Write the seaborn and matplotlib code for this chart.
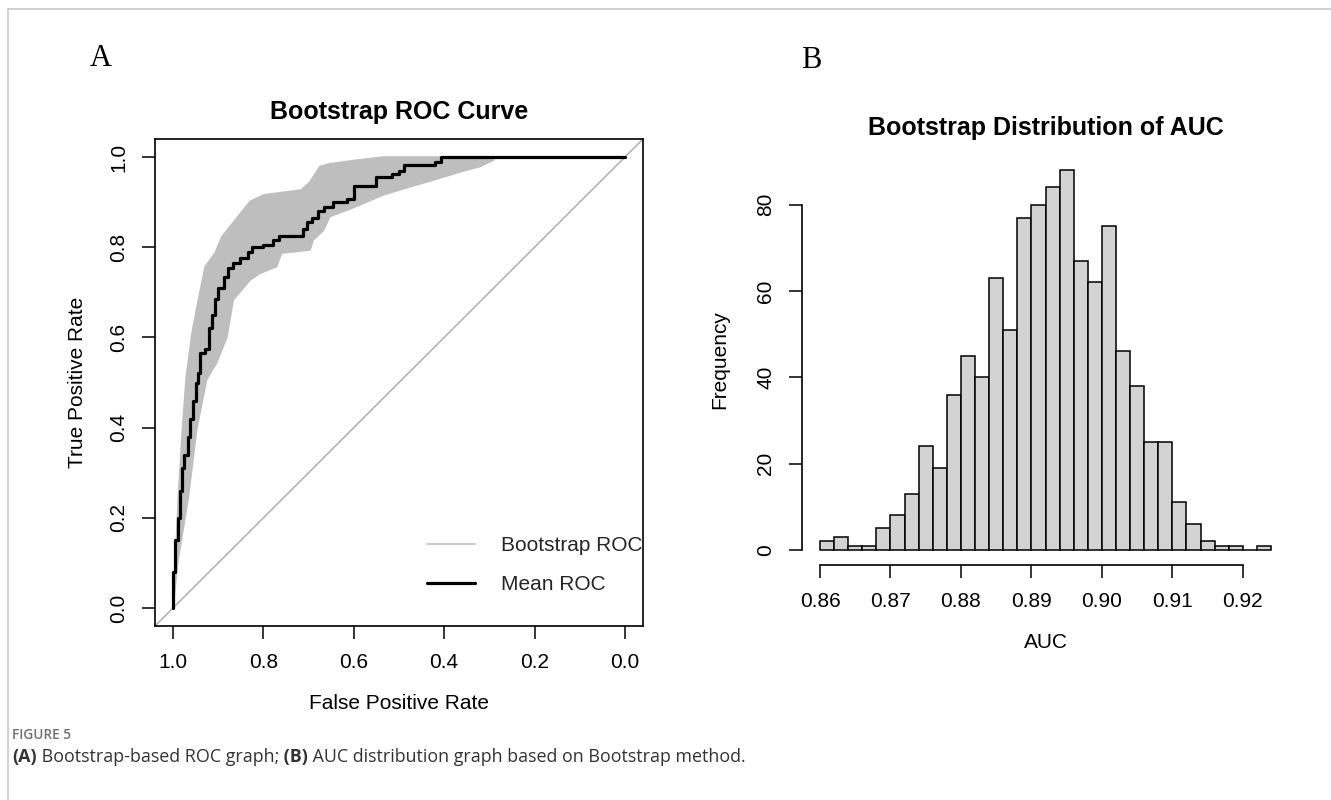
import numpy as np
import pandas as pd
import matplotlib
matplotlib.use("Agg")
import matplotlib.pyplot as plt
import seaborn as sns
from matplotlib.lines import Line2D

# ---------------- data ----------------
# Mean ROC (specificity, sensitivity) step corners
mean_spec = [1.000, 0.995, 0.990, 0.985, 0.980, 0.975, 0.968, 0.962, 0.955, 0.950,
             0.945, 0.940, 0.930, 0.920, 0.914, 0.907, 0.900, 0.888, 0.878, 0.868,
             0.852, 0.835, 0.825, 0.800, 0.778, 0.765, 0.712, 0.703, 0.692, 0.680,
             0.665, 0.645, 0.615, 0.600, 0.550, 0.515, 0.500, 0.490, 0.420, 0.408, 0.000]
mean_sens = [0.000, 0.080, 0.150, 0.200, 0.260, 0.310, 0.340, 0.380, 0.420, 0.460,
             0.500, 0.520, 0.565, 0.575, 0.620, 0.650, 0.685, 0.710, 0.735, 0.755,
             0.765, 0.775, 0.790, 0.800, 0.805, 0.815, 0.825, 0.840, 0.855, 0.865,
             0.880, 0.890, 0.900, 0.908, 0.935, 0.955, 0.962, 0.970, 0.983, 0.990, 1.000]

# Outer (upper-left) bootstrap ROC envelope
upper_spec = [1.000, 0.995, 0.988, 0.979, 0.971, 0.958, 0.944, 0.929, 0.907, 0.892,
              0.874, 0.830, 0.800, 0.716, 0.697, 0.675, 0.653, 0.594, 0.535, 0.290]
upper_sens = [0.000, 0.100, 0.250, 0.400, 0.510, 0.610, 0.683, 0.757, 0.787, 0.823,
              0.846, 0.901, 0.916, 0.927, 0.945, 0.979, 0.985, 0.993, 1.000, 1.000]
# Inner (lower-right) bootstrap ROC envelope
lower_spec = [1.000, 0.990, 0.966, 0.948, 0.926, 0.904, 0.881, 0.867, 0.830, 0.808,
              0.771, 0.760, 0.697, 0.690, 0.667, 0.653, 0.608, 0.535, 0.476, 0.424,
              0.365, 0.321, 0.291, 0.290]
lower_sens = [0.000, 0.100, 0.247, 0.395, 0.506, 0.543, 0.600, 0.683, 0.727, 0.742,
              0.757, 0.787, 0.794, 0.816, 0.838, 0.868, 0.885, 0.916, 0.934, 0.949,
              0.967, 0.979, 0.993, 1.000]

roc_ticks = [1.0, 0.8, 0.6, 0.4, 0.2, 0.0]
roc_ticklabels = ["1.0", "0.8", "0.6", "0.4", "0.2", "0.0"]

# Bootstrap AUC histogram (bin width 0.002 starting at 0.860)
auc_bin_start = 0.860
auc_bin_width = 0.002
auc_counts = [2, 3, 1, 1, 5, 8, 13, 24, 19, 36, 45, 40, 63, 51, 77, 80,
              84, 88, 67, 62, 75, 46, 38, 25, 25, 11, 6, 2, 1, 1, 0, 1]
auc_xticks = [0.86, 0.87, 0.88, 0.89, 0.90, 0.91, 0.92]
auc_xticklabels = ["0.86", "0.87", "0.88", "0.89", "0.90", "0.91", "0.92"]
freq_ticks = [0, 20, 40, 60, 80]

# ---------------- style ----------------
sns.set_theme(style="white")
plt.rcParams["font.family"] = ["Liberation Sans", "DejaVu Sans"]
FS = 15
GRAY = "#BEBEBE"
TICKLEN = 9.1
TICKPAD = 10.2

W, H = 1331, 800
fig = plt.figure(figsize=(W / 100, H / 100), dpi=100)
fig.patch.set_facecolor("white")

def px_axes(l, t, r, b):
    return fig.add_axes([l / W, 1 - b / H, (r - l) / W, (b - t) / H])

axA = px_axes(155, 139, 643, 626)
axB = px_axes(802, 155, 1289, 565)

# ---------------- panel A ----------------
poly_x = np.r_[upper_spec, lower_spec[::-1]]
poly_y = np.r_[upper_sens, lower_sens[::-1]]
axA.fill(poly_x, poly_y, color=GRAY, lw=0, zorder=1)

df_up = pd.DataFrame({"spec": upper_spec, "sens": upper_sens})
df_lo = pd.DataFrame({"spec": lower_spec, "sens": lower_sens})
df_mean = pd.DataFrame({"spec": mean_spec, "sens": mean_sens})
sns.lineplot(data=df_up, x="spec", y="sens", sort=False, estimator=None,
             color=GRAY, lw=1.2, ax=axA, zorder=2)
sns.lineplot(data=df_lo, x="spec", y="sens", sort=False, estimator=None,
             color=GRAY, lw=1.2, ax=axA, zorder=2)
axA.axline((1, 0), (0, 1), color="#A8A8A8", lw=1.0, zorder=1.5)
sns.lineplot(data=df_mean, x="spec", y="sens", sort=False, estimator=None,
             color="black", lw=2.3, drawstyle="steps-pre", ax=axA, zorder=3)

axA.set_xlim(1.04, -0.04)
axA.set_ylim(-0.04, 1.04)
axA.set_xticks(roc_ticks)
axA.set_xticklabels(roc_ticklabels)
axA.set_yticks(roc_ticks)
axA.set_yticklabels(roc_ticklabels, rotation=90, va="center")
for s in axA.spines.values():
    s.set_visible(True)
    s.set_color("black")
    s.set_linewidth(1.2)
axA.tick_params(axis="both", direction="out", length=TICKLEN, width=1.1,
                colors="black", labelsize=FS, pad=TICKPAD, bottom=True, left=True)
axA.set_xlabel("False Positive Rate", fontsize=FS, color="black")
axA.set_ylabel("True Positive Rate", fontsize=FS, color="black")
axA.xaxis.set_label_coords(0.5, (626 - 694) / 487)
axA.yaxis.set_label_coords((87 - 155) / 488, 0.5)

handles = [Line2D([], [], color=GRAY, lw=1.2), Line2D([], [], color="black", lw=2.3)]
leg = axA.legend(handles, ["Bootstrap ROC", "Mean ROC"], loc="upper left",
                 bbox_to_anchor=((427 - 155) / 488, (626 - 536) / 487),
                 frameon=False, fontsize=FS, handlelength=2.3, handletextpad=1.25,
                 labelspacing=0.95, borderpad=0, borderaxespad=0)
for t in leg.get_texts():
    t.set_clip_on(True)
    t.set_clip_box(axA.bbox)

# ---------------- panel B ----------------
nb = len(auc_counts)
edges = [round(auc_bin_start + auc_bin_width * i, 4) for i in range(nb + 1)]
centers = [(edges[i] + edges[i + 1]) / 2 for i in range(nb)]
df_auc = pd.DataFrame({"auc": centers, "count": auc_counts})
sns.histplot(data=df_auc, x="auc", weights="count", bins=edges, ax=axB,
             color="#D3D3D3", edgecolor="black", linewidth=1.1, alpha=1.0)

axB.set_xlim(0.85744, 0.92656)
axB.set_ylim(-3.52, 91.52)
axB.set_xticks(auc_xticks)
axB.set_xticklabels(auc_xticklabels)
axB.set_yticks(freq_ticks)
axB.set_yticklabels([str(v) for v in freq_ticks], rotation=90, va="center")
axB.spines["top"].set_visible(False)
axB.spines["right"].set_visible(False)
for k in ("left", "bottom"):
    axB.spines[k].set_visible(True)
    axB.spines[k].set_color("black")
    axB.spines[k].set_linewidth(1.2)
axB.spines["left"].set_bounds(0, 80)
axB.spines["bottom"].set_bounds(0.86, 0.92)
axB.tick_params(axis="both", direction="out", length=TICKLEN, width=1.1,
                colors="black", labelsize=FS, pad=TICKPAD, bottom=True, left=True)
axB.set_xlabel("AUC", fontsize=FS, color="black")
axB.set_ylabel("Frequency", fontsize=FS, color="black")
axB.xaxis.set_label_coords(0.5, (565 - 633) / 410)
axB.yaxis.set_label_coords((729 - 802) / 487, 0.5)

# ---------------- titles / panel letters ----------------
fig.text(399 / W, 1 - 112 / H, "Bootstrap ROC Curve", ha="center", va="center",
         fontsize=FS * 1.2, fontweight="bold", color="black")
fig.text(1046 / W, 1 - 128 / H, "Bootstrap Distribution of AUC", ha="center", va="center",
         fontsize=FS * 1.2, fontweight="bold", color="black")
fig.text(101 / W, 1 - 58 / H, "A", ha="center", va="center", fontsize=22,
         family=["Liberation Serif", "DejaVu Serif"], color="black")
fig.text(811 / W, 1 - 60 / H, "B", ha="center", va="center", fontsize=22,
         family=["Liberation Serif", "DejaVu Serif"], color="black")

# ---------------- frame & caption ----------------
fig.add_artist(Line2D([8 / W, 1], [1 - 9 / H, 1 - 9 / H], transform=fig.transFigure,
                      color="#C8C8C8", lw=1.2))
fig.add_artist(Line2D([8 / W, 8 / W], [0, 1 - 9 / H], transform=fig.transFigure,
                      color="#C8C8C8", lw=1.2))

cap_font = ["Open Sans", "DejaVu Sans"]
fig.text(12 / W, 1 - 735 / H, "FIGURE 5", ha="left", va="center", fontsize=9.8,
         family=cap_font, color="#707070", fontweight="semibold")
fig.canvas.draw()
renderer = fig.canvas.get_renderer()
parts = [("(A)", "bold"), (" Bootstrap-based ROC graph;", "normal"),
         (" (B)", "bold"), (" AUC distribution graph based on Bootstrap method.", "normal")]
x = 12
for txt, wt in parts:
    t = fig.text(x / W, 1 - 757 / H, txt, ha="left", va="center", fontsize=12.9,
                 family=cap_font, color="#333333", fontweight=wt)
    bb = t.get_window_extent(renderer=renderer)
    x += bb.width

fig.savefig("out.png", dpi=100, facecolor="white")
